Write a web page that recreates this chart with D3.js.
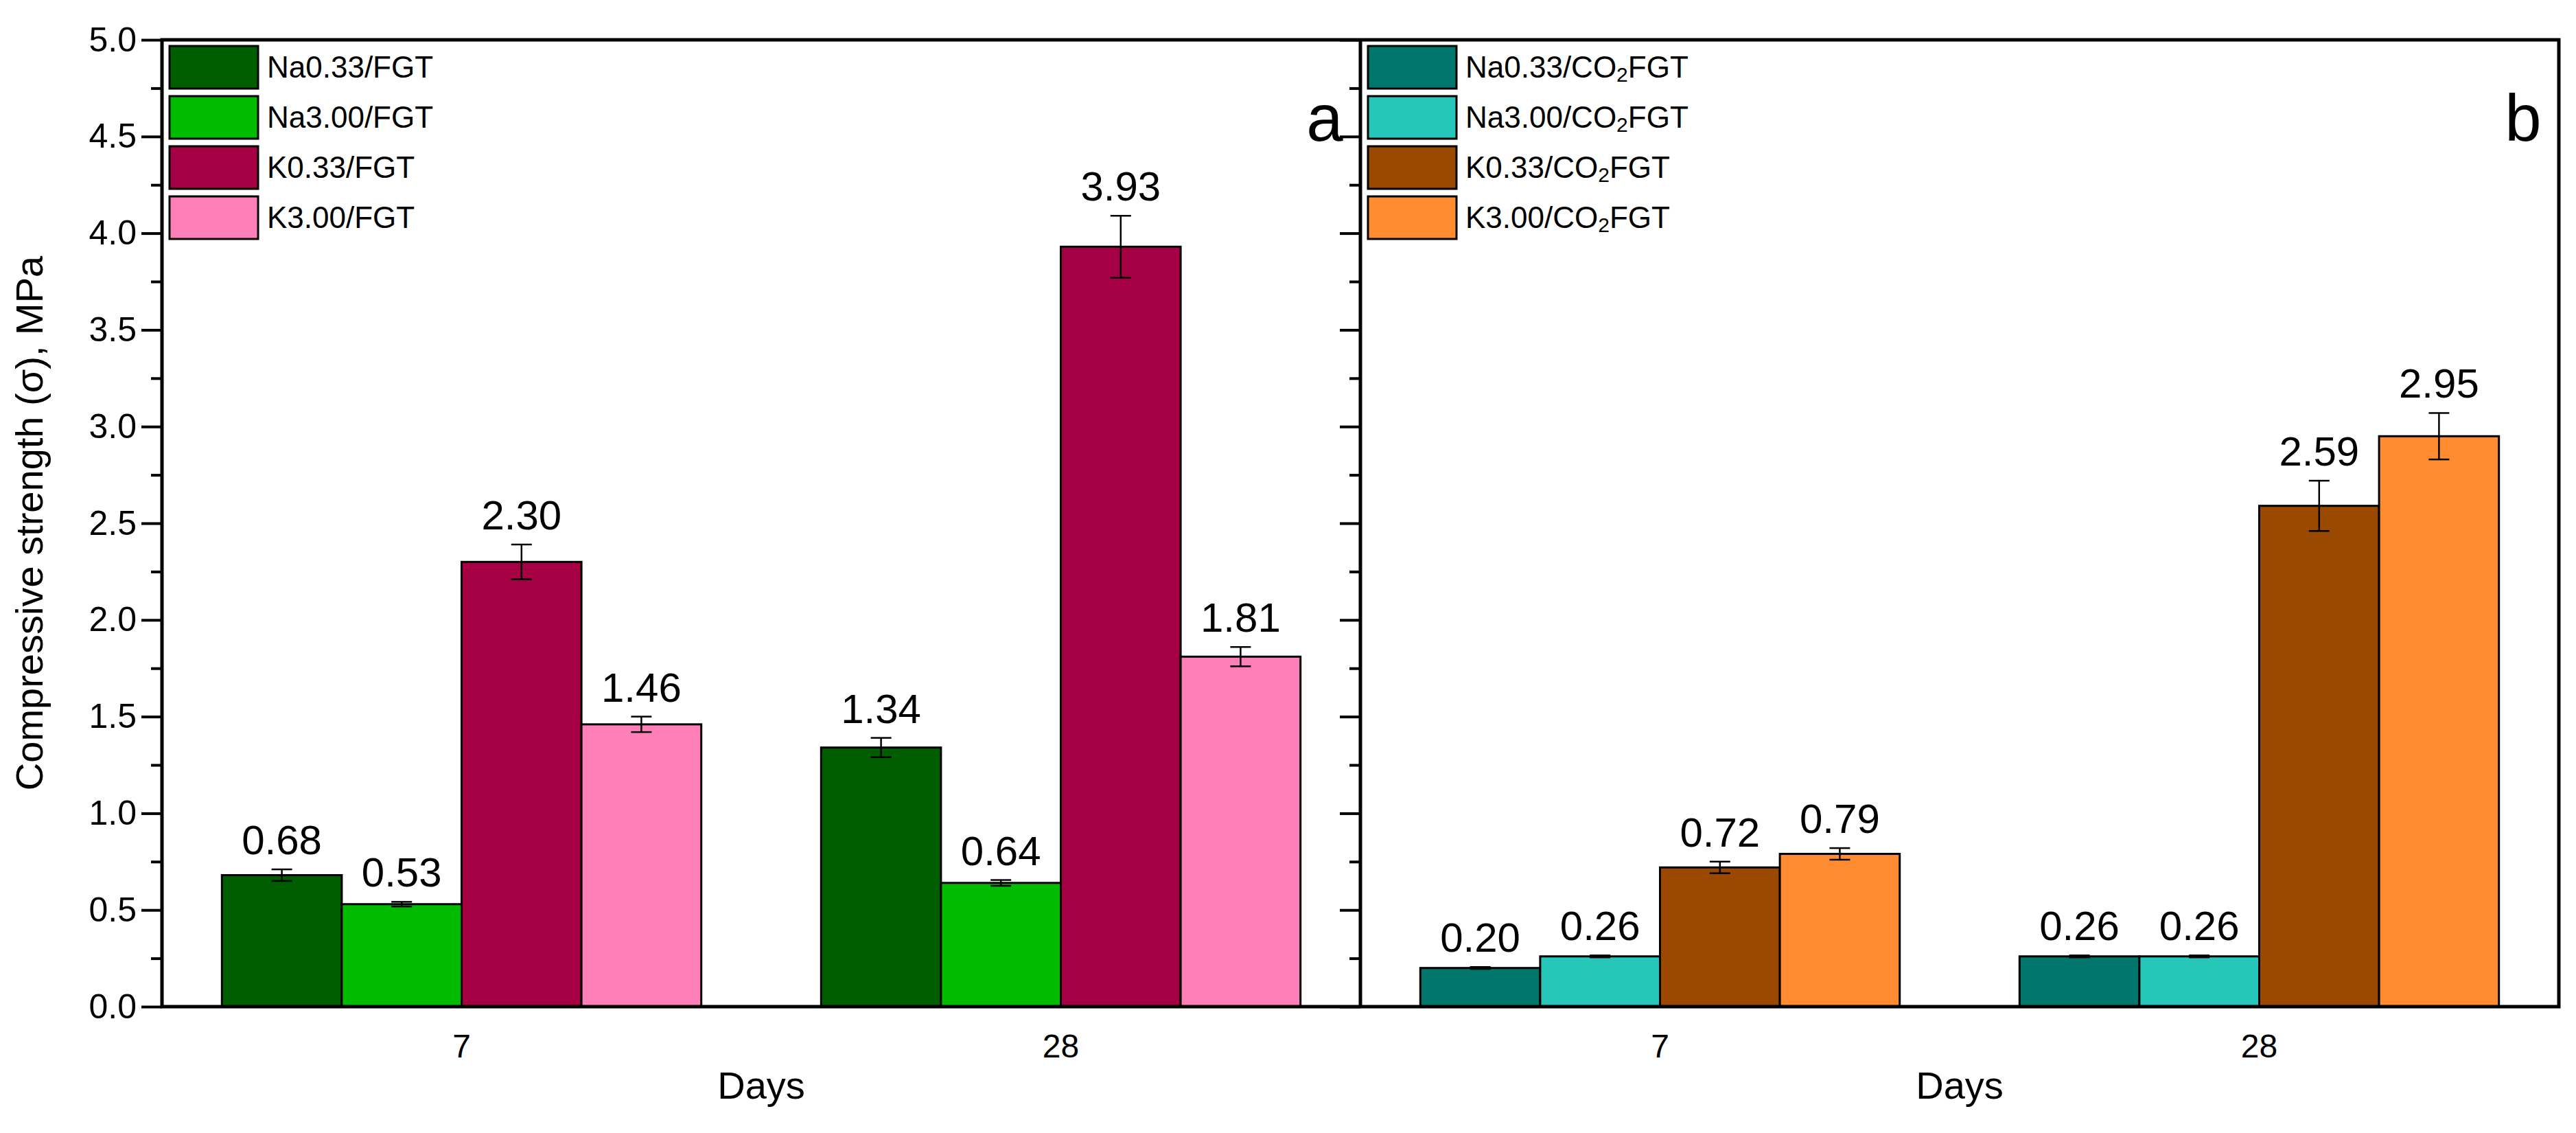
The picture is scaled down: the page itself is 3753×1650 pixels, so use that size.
<!DOCTYPE html>
<html><head><meta charset="utf-8">
<script src="https://cdn.jsdelivr.net/npm/d3@7"></script>
<style>body{margin:0;background:#fff}svg{font-family:Arial,"Liberation Sans",sans-serif}</style>
</head><body>
<svg id="c" width="3753" height="1650"></svg>
<script>
const days = ["7","28"];
const seriesA = ["Na0.33/FGT","Na3.00/FGT","K0.33/FGT","K3.00/FGT"];
const seriesB = ["Na0.33/CO2FGT","Na3.00/CO2FGT","K0.33/CO2FGT","K3.00/CO2FGT"];
const colorsA = ["#005e00","#00bb00","#a50043","#ff80b8"];
const colorsB = ["#00766c","#26c6b8","#9b4800","#ff8c30"];
// values[series][day]
const valuesA = [[0.68,1.34],[0.53,0.64],[2.30,3.93],[1.46,1.81]];
const errA = [[0.03,0.05],[0.012,0.015],[0.09,0.16],[0.04,0.05]];
const valuesB = [[0.20,0.26],[0.26,0.26],[0.72,2.59],[0.79,2.95]];
const errB = [[0.005,0.005],[0.005,0.005],[0.03,0.13],[0.03,0.12]];
const yTicks = [0,0.5,1,1.5,2,2.5,3,3.5,4,4.5,5];
const yMinor = d3.range(0.25,5,0.5);

const svg = d3.select("#c");
const L=236, M=1982, R=3728, T=58, B=1466;
const y = d3.scaleLinear().domain([0,5]).range([B,T]);

function panel(x0,x1,series,colors,vals,errs,letter){
  const g = svg.append("g");
  const xg = d3.scaleBand().domain(days).range([x0,x1]).paddingInner(0.2).paddingOuter(0.1);
  const xs = d3.scaleBand().domain(d3.range(series.length)).range([0,xg.bandwidth()]);
  days.forEach((d,di)=>{
    series.forEach((s,si)=>{
      const v=vals[si][di], e=errs[si][di];
      const bx = xg(d)+xs(si), w=xs.bandwidth(), cx=bx+w/2;
      g.append("rect").attr("x",bx).attr("y",y(v)).attr("width",w).attr("height",y(0)-y(v))
        .attr("fill",colors[si]).attr("stroke","#000").attr("stroke-width",3);
      g.append("line").attr("x1",cx).attr("x2",cx).attr("y1",y(v+e)).attr("y2",y(v-e)).attr("stroke","#000").attr("stroke-width",2.5);
      [v+e,v-e].forEach(t=>g.append("line").attr("x1",cx-15).attr("x2",cx+15).attr("y1",y(t)).attr("y2",y(t)).attr("stroke","#000").attr("stroke-width",2.5));
      g.append("text").attr("x",cx).attr("y",y(v+e)-22).attr("text-anchor","middle").attr("font-size",60).text(v.toFixed(2));
    });
    g.append("text").attr("x",xg(d)+xg.bandwidth()/2).attr("y",1540).attr("text-anchor","middle").attr("font-size",48).text(d);
  });
  g.append("text").attr("x",(x0+x1)/2).attr("y",1600).attr("text-anchor","middle").attr("font-size",56).text("Days");
  g.append("text").attr("x",x1-52).attr("y",205).attr("text-anchor","middle").attr("font-size",96).text(letter);
  const ax = g.append("g").attr("transform",`translate(${x0},0)`).call(d3.axisLeft(y).tickValues(yTicks).tickSize(30).tickFormat(x0===L?d3.format(".1f"):""));
  ax.select(".domain").remove();
  ax.selectAll("line").attr("stroke-width",4);
  ax.selectAll("text").attr("font-size",50).attr("font-family","Arial,'Liberation Sans',sans-serif").attr("dx",-4);
  const am = g.append("g").attr("transform",`translate(${x0},0)`).call(d3.axisLeft(y).tickValues(yMinor).tickSize(16).tickFormat(""));
  am.select(".domain").remove(); am.selectAll("line").attr("stroke-width",4);
  const lx=x0+11;
  series.forEach((s,si)=>{
    const ly=67+si*73;
    g.append("rect").attr("x",lx).attr("y",ly).attr("width",129).attr("height",62).attr("fill",colors[si]).attr("stroke","#000").attr("stroke-width",3);
    const t=g.append("text").attr("x",lx+142).attr("y",ly+46).attr("font-size",44);
    if(s.includes("CO2")){
      const [a,b]=s.split("CO2");
      t.append("tspan").text(a+"CO");
      t.append("tspan").attr("font-size",30).attr("dy",6).text("2");
      t.append("tspan").attr("dy",-6).text(b);
    } else t.text(s);
  });
}
panel(L,M,seriesA,colorsA,valuesA,errA,"a");
panel(M,R,seriesB,colorsB,valuesB,errB,"b");

svg.append("rect").attr("x",L).attr("y",T).attr("width",R-L).attr("height",B-T).attr("fill","none").attr("stroke","#000").attr("stroke-width",5);
svg.append("line").attr("x1",M).attr("x2",M).attr("y1",T).attr("y2",B).attr("stroke","#000").attr("stroke-width",5);
svg.append("text").attr("transform",`translate(62,${(T+B)/2}) rotate(-90)`).attr("text-anchor","middle").attr("font-size",56).text("Compressive strength (σ), MPa");
</script>
</body></html>
